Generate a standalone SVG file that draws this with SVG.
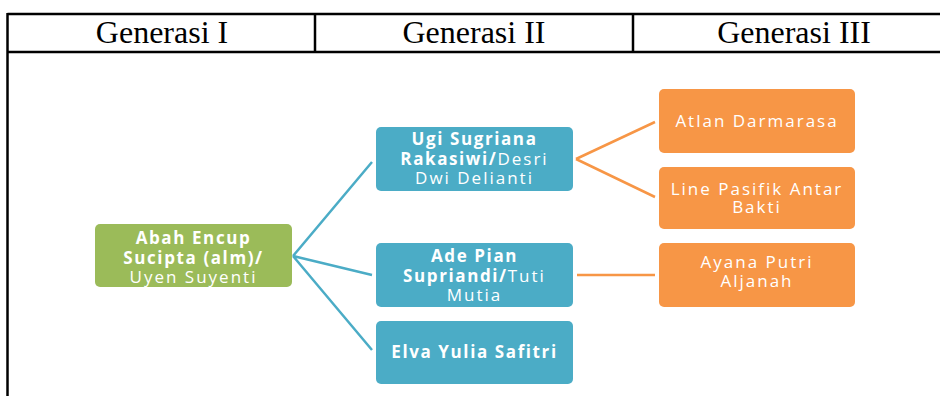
<svg xmlns="http://www.w3.org/2000/svg" width="940" height="396" viewBox="0 0 940 396">
<style>
.tb{stroke:#000;stroke-width:2.5;fill:none}
.hd{font-family:"Liberation Serif","Times New Roman",serif;font-size:32px;fill:#000;text-anchor:middle}
.g{fill:#9bbb59}
.b{fill:#4bacc6}
.o{fill:#f79646}
.t{font-family:"Open Sans","DejaVu Sans",sans-serif;font-size:17px;letter-spacing:2px;fill:#fff;text-anchor:middle}
.bd{font-weight:bold;letter-spacing:1.6px}
.cb{stroke:#4bacc6;stroke-width:2.5;fill:none}
.co{stroke:#f79646;stroke-width:2.5;fill:none}
</style>
<rect width="940" height="396" fill="#fff"/>
<g id="table">
<line class="tb" x1="7.5" y1="14" x2="940" y2="14"/>
<line class="tb" x1="7.5" y1="52" x2="940" y2="52"/>
<line class="tb" x1="7.5" y1="13" x2="7.5" y2="396"/>
<line class="tb" x1="315" y1="14" x2="315" y2="52"/>
<line class="tb" x1="633" y1="14" x2="633" y2="52"/>
<text class="hd" x="162" y="43">Generasi I</text>
<text class="hd" x="474" y="43">Generasi II</text>
<text class="hd" x="794" y="43">Generasi III</text>
</g>
<g id="connectors">
<path class="cb" d="M293,256 L372,162 M293,256 L372,275 M293,256 L372,350"/>
<path class="co" d="M576,159 L655,122 M576,159 L655,197 M577,275 L655,275"/>
</g>
<g id="n-abah">
<rect class="g" x="95" y="224" width="197" height="63" rx="5"/>
<text class="t"><tspan class="bd" x="193.5" y="244">Abah Encup</tspan><tspan class="bd" x="193.5" y="264">Sucipta (alm)/</tspan><tspan x="193.5" y="283">Uyen Suyenti</tspan></text>
</g>
<g id="n-ugi">
<rect class="b" x="376" y="127" width="197" height="64" rx="5"/>
<text class="t"><tspan class="bd" x="474.5" y="145">Ugi Sugriana</tspan><tspan x="474.5" y="165"><tspan class="bd">Rakasiwi/</tspan>Desri</tspan><tspan x="474.5" y="184">Dwi Delianti</tspan></text>
</g>
<g id="n-ade">
<rect class="b" x="376" y="243" width="197" height="64" rx="5"/>
<text class="t"><tspan class="bd" x="474.5" y="262">Ade Pian</tspan><tspan x="474.5" y="282"><tspan class="bd">Supriandi/</tspan>Tuti</tspan><tspan x="474.5" y="301">Mutia</tspan></text>
</g>
<g id="n-elva">
<rect class="b" x="376" y="321" width="197" height="63" rx="5"/>
<text class="t bd" x="474.5" y="358">Elva Yulia Safitri</text>
</g>
<g id="n-atlan">
<rect class="o" x="659" y="89" width="196" height="64" rx="5"/>
<text class="t" x="757" y="127">Atlan Darmarasa</text>
</g>
<g id="n-line">
<rect class="o" x="659" y="167" width="196" height="62" rx="5"/>
<text class="t"><tspan x="757" y="195">Line Pasifik Antar</tspan><tspan x="757" y="213">Bakti</tspan></text>
</g>
<g id="n-ayana">
<rect class="o" x="659" y="243" width="196" height="64" rx="5"/>
<text class="t"><tspan x="757" y="268">Ayana Putri</tspan><tspan x="757" y="287">Aljanah</tspan></text>
</g>
</svg>
